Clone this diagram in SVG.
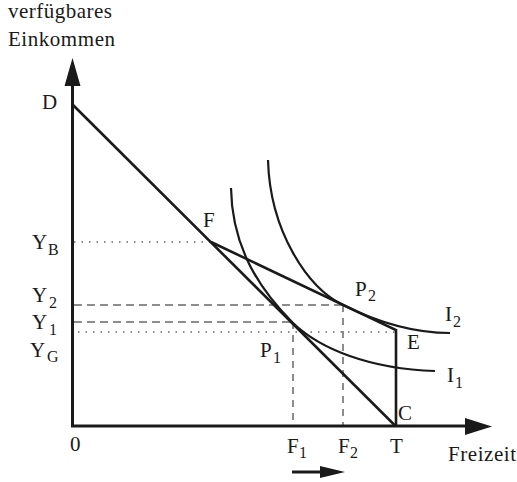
<svg xmlns="http://www.w3.org/2000/svg" width="517" height="482" viewBox="0 0 517 482">
<style>
text{font-family:"Liberation Serif","Times New Roman",Times,"DejaVu Serif","Noto Serif",serif;fill:#1a1a1a}
.lb{font-size:21px}
.sb{font-size:16px}
.ax{stroke:#1a1a1a;stroke-width:3;fill:none}
.bl{stroke:#1a1a1a;stroke-width:2.6;fill:none}
.cv{stroke:#1a1a1a;stroke-width:2.2;fill:none}
.dot{stroke:#1a1a1a;stroke-width:1;stroke-dasharray:1.5,6;fill:none}
.dsh{stroke:#1a1a1a;stroke-width:1;stroke-dasharray:8,5;fill:none}
.dshv{stroke:#1a1a1a;stroke-width:1;stroke-dasharray:7,6;fill:none}
</style>
<rect width="517" height="482" fill="#fff"/>
<g id="guides">
<line class="dot" x1="74" y1="242" x2="211" y2="242"/>
<line class="dsh" x1="74" y1="305" x2="343" y2="305"/>
<line class="dsh" x1="74" y1="322" x2="293" y2="322"/>
<line class="dot" x1="78" y1="332" x2="396" y2="332"/>
<line class="dshv" x1="293" y1="322" x2="293" y2="425"/>
<line class="dshv" x1="343" y1="305" x2="343" y2="425"/>
</g>
<g id="axes">
<polyline class="ax" points="72.5,84 72.5,426 468,426"/>
<polygon points="64.5,86 72.5,58 80.5,86" fill="#1a1a1a"/>
<polygon points="465,418 492,426.5 465,435" fill="#1a1a1a"/>
</g>
<g id="connectors">
<line class="bl" x1="73" y1="105" x2="395.5" y2="426"/>
<polyline class="bl" points="211,242 396,330 396,426"/>
</g>
<g id="I1">
<path class="cv" d="M231,188 C232,250 262,292 293,323 C320,349 370,369 435,371"/>
</g>
<g id="I2">
<path class="cv" d="M268,160 C270,232 308,288 343,305 C375,321 410,333 450,333"/>
</g>
<g id="labels">
<text class="lb" x="8" y="18" textLength="104">verfügbares</text>
<text class="lb" x="8" y="46" textLength="107">Einkommen</text>
<text class="lb" x="42" y="109">D</text>
<text class="lb" x="32" y="249">Y</text><text class="sb" x="48" y="255">B</text>
<text class="lb" x="32" y="302">Y</text><text class="sb" x="49" y="308">2</text>
<text class="lb" x="32" y="329">Y</text><text class="sb" x="49" y="335">1</text>
<text class="lb" x="30" y="357">Y</text><text class="sb" x="47" y="362">G</text>
<text class="lb" x="70" y="451">0</text>
<text class="lb" x="203" y="227">F</text>
<text class="lb" x="355" y="296">P</text><text class="sb" x="368" y="301">2</text>
<text class="lb" x="260" y="357">P</text><text class="sb" x="273" y="363">1</text>
<text class="lb" x="445" y="321">I</text><text class="sb" x="453" y="327">2</text>
<text class="lb" x="447" y="382">I</text><text class="sb" x="455" y="388">1</text>
<text class="lb" x="407" y="349">E</text>
<text class="lb" x="398" y="420">C</text>
<text class="lb" x="287" y="453">F</text><text class="sb" x="299" y="458">1</text>
<text class="lb" x="338" y="453">F</text><text class="sb" x="350" y="458">2</text>
<text class="lb" x="390" y="453">T</text>
<text class="lb" x="448" y="461" textLength="68">Freizeit</text>
</g>
<g id="shift-arrow">
<line x1="292" y1="472" x2="322" y2="472" stroke="#1a1a1a" stroke-width="3"/>
<polygon points="320,466 345,472 320,478" fill="#1a1a1a"/>
</g>
</svg>
